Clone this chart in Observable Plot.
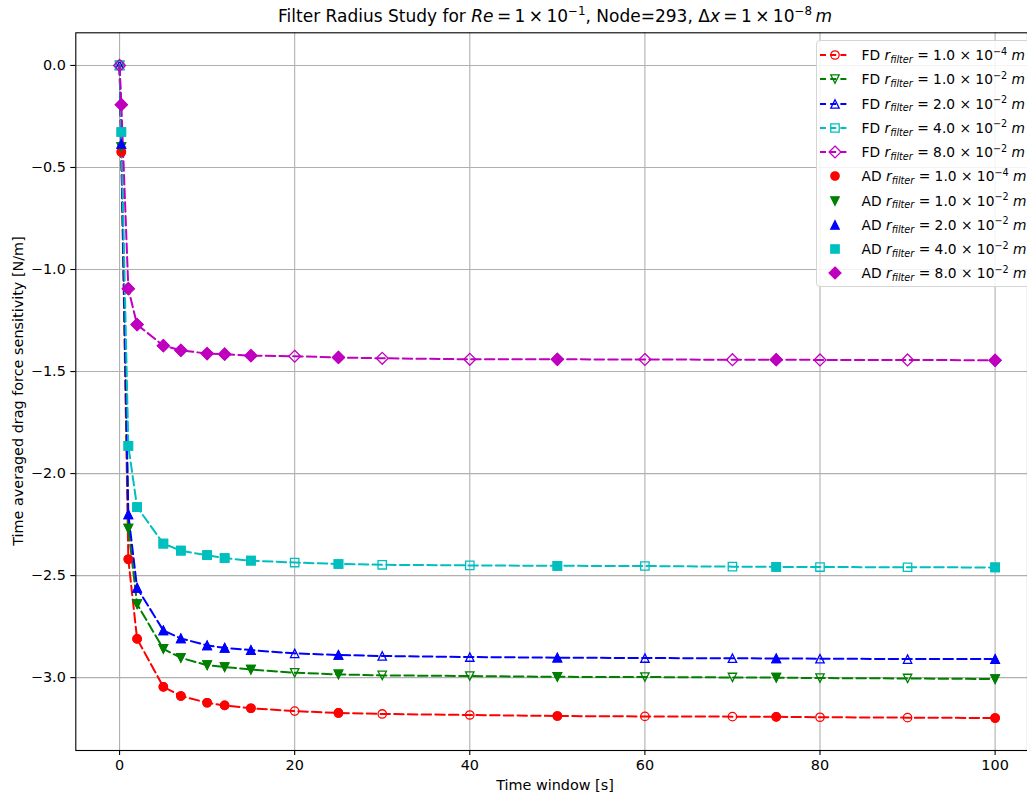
<!DOCTYPE html>
<html><head><meta charset="utf-8">
<script src="https://cdn.jsdelivr.net/npm/d3@7"></script>
<script src="https://cdn.jsdelivr.net/npm/@observablehq/plot@0.6"></script>
<style>
body{margin:0;background:#fff;font-family:"DejaVu Sans",sans-serif;color:#000;}
#wrap{position:relative;width:1027px;height:796px;overflow:hidden;}
#chart{position:absolute;left:0;top:0;}
.abs{position:absolute;white-space:nowrap;}
#title{top:6px;left:0;width:1110px;text-align:center;font-size:17px;line-height:20px;}
#xlabel{top:777px;left:0;width:1110px;text-align:center;font-size:14.4px;line-height:16px;}
#ylabel{left:18px;top:391px;font-size:14.4px;line-height:16px;transform:translate(-50%,-50%) rotate(-90deg);}
#legend{left:815.5px;top:39.5px;width:240px;height:245px;border:1px solid #d5d5d5;border-radius:4px;background:rgba(255,255,255,0.85);}
.ltext{position:absolute;left:861.5px;font-size:13.8px;line-height:20px;white-space:nowrap;}
sub,sup{font-size:70%;line-height:0;position:relative;vertical-align:baseline;}
sub{top:0.3em;} sup{top:-0.55em;}
i{font-style:italic;}
</style>
</head><body>
<div id="wrap">
<div id="chart"></div>
<div id="title" class="abs">Filter Radius Study for <i>Re</i>&thinsp;=&thinsp;1&thinsp;×&thinsp;10<sup>−1</sup>, Node=293, Δ<i>x</i>&thinsp;=&thinsp;1&thinsp;×&thinsp;10<sup>−8</sup>&thinsp;<i>m</i></div>
<div id="xlabel" class="abs">Time window [s]</div>
<div id="ylabel" class="abs">Time averaged drag force sensitivity [N/m]</div>
<div id="legend" class="abs"></div>
</div>
<script>
// ---- data ----
const times = [0, 0.2, 1, 2, 5, 7, 10, 12, 15, 20, 25, 30, 40, 50, 60, 70, 75, 80, 90, 100];
const adTimes = [0.2, 1, 2, 5, 7, 10, 12, 15, 25, 50, 75, 100];
const radiusMantissa = ["1.0", "1.0", "2.0", "4.0", "8.0"];
const radiusExponent = ["−4", "−2", "−2", "−2", "−2"];
const valuesR1e4 = [0, -0.424, -2.42, -2.81, -3.045, -3.09, -3.123, -3.136, -3.15, -3.164, -3.173, -3.178, -3.183, -3.188, -3.19, -3.191, -3.192, -3.194, -3.196, -3.198];
const valuesR1e2 = [0, -0.40, -2.27, -2.64, -2.859, -2.903, -2.939, -2.948, -2.96, -2.976, -2.984, -2.989, -2.992, -2.996, -2.997, -2.999, -3.0, -3.002, -3.004, -3.007];
const valuesR2e2 = [0, -0.385, -2.20, -2.56, -2.769, -2.808, -2.842, -2.854, -2.865, -2.881, -2.889, -2.894, -2.899, -2.902, -2.904, -2.905, -2.906, -2.907, -2.909, -2.909];
const valuesR4e2 = [0, -0.326, -1.864, -2.164, -2.343, -2.378, -2.40, -2.414, -2.427, -2.436, -2.443, -2.447, -2.450, -2.452, -2.453, -2.456, -2.457, -2.458, -2.459, -2.460];
const valuesR8e2 = [0, -0.192, -1.094, -1.270, -1.373, -1.396, -1.412, -1.415, -1.422, -1.425, -1.431, -1.435, -1.440, -1.440, -1.441, -1.442, -1.442, -1.443, -1.443, -1.445];
const xTicks = [0, 20, 40, 60, 80, 100];
const yTicks = [0, -0.5, -1.0, -1.5, -2.0, -2.5, -3.0];

// ---- styles ----
const colors = ["#ff0000", "#008000", "#0000ff", "#00bfbf", "#bf00bf"];
const shapes = ["circle", "triDown", "triUp", "square", "diamond"];
const seriesValues = [valuesR1e4, valuesR1e2, valuesR2e2, valuesR4e2, valuesR8e2];

function shapePath(ctx, kind, s) {
  if (kind === "circle") { ctx.moveTo(s, 0); ctx.arc(0, 0, s, 0, 2 * Math.PI); ctx.closePath(); return; }
  let pts;
  if (kind === "triUp") pts = [[0, -s], [s, s], [-s, s]];
  else if (kind === "triDown") pts = [[0, s], [s, -s], [-s, -s]];
  else if (kind === "square") pts = [[-s, -s], [s, -s], [s, s], [-s, s]];
  else { const d = s * Math.SQRT2; pts = [[0, -d], [d, 0], [0, d], [-d, 0]]; }
  ctx.moveTo(pts[0][0], pts[0][1]);
  for (let k = 1; k < pts.length; k++) ctx.lineTo(pts[k][0], pts[k][1]);
  ctx.closePath();
}
const symbolObj = kind => ({draw(ctx, size) { shapePath(ctx, kind, Math.sqrt(size / Math.PI)); }});

const R = 4.2, SW = 1.3, LW = 2, DASH = "9.5,4.2";

const marks = [
  Plot.gridX(xTicks, {stroke: "#b0b0b0", strokeOpacity: 1, strokeWidth: 1.1}),
  Plot.gridY(yTicks, {stroke: "#b0b0b0", strokeOpacity: 1, strokeWidth: 1.1})
];
seriesValues.forEach((vals, i) => {
  const fd = times.map((t, k) => ({t, v: vals[k]}));
  marks.push(Plot.line(fd, {x: "t", y: "v", stroke: colors[i], strokeWidth: LW, strokeDasharray: DASH}));
  marks.push(Plot.dot(fd, {x: "t", y: "v", r: R, symbol: symbolObj(shapes[i]), fill: "none", stroke: colors[i], strokeWidth: SW}));
});
seriesValues.forEach((vals, i) => {
  const ad = adTimes.map(t => ({t, v: vals[times.indexOf(t)]}));
  marks.push(Plot.dot(ad, {x: "t", y: "v", r: R, symbol: symbolObj(shapes[i]), fill: colors[i], stroke: colors[i], strokeWidth: SW}));
});
marks.push(Plot.axisX(xTicks, {tickSize: 5, tickPadding: 4, fontSize: 14.4, stroke: "#000", strokeWidth: 1.1, label: null}));
marks.push(Plot.axisY(yTicks, {tickSize: 5, tickPadding: 5, fontSize: 14.4, stroke: "#000", strokeWidth: 1.1, tickFormat: d3.format(".1f"), label: null}));
marks.push(Plot.frame({stroke: "#000", strokeWidth: 1.1}));

const chart = Plot.plot({
  width: 1027, height: 796,
  marginLeft: 75.3, marginRight: 0, marginTop: 32.3, marginBottom: 46,
  x: {domain: [-5, 103.7]},
  y: {domain: [-3.357, 0.16]},
  style: {fontFamily: "DejaVu Sans", fontSize: "14.4px", color: "#000", background: "white", overflow: "visible"},
  marks
});
document.getElementById("chart").appendChild(chart);

// ---- legend ----
const wrap = document.getElementById("wrap");
const ns = "http://www.w3.org/2000/svg";
const entries = [];
radiusMantissa.forEach((m, i) => entries.push({kind: "FD", i, hollow: true}));
radiusMantissa.forEach((m, i) => entries.push({kind: "AD", i, hollow: false}));
entries.forEach((e, j) => {
  const cy = 55 + 24.25 * j;
  const svg = document.createElementNS(ns, "svg");
  svg.setAttribute("width", 40); svg.setAttribute("height", 24);
  svg.style.position = "absolute"; svg.style.left = "815px"; svg.style.top = (cy - 12) + "px";
  const c = colors[e.i];
  if (e.hollow) {
    const ln = document.createElementNS(ns, "line");
    ln.setAttribute("x1", 5); ln.setAttribute("x2", 34.5); ln.setAttribute("y1", 12); ln.setAttribute("y2", 12);
    ln.setAttribute("stroke", c); ln.setAttribute("stroke-width", LW); ln.setAttribute("stroke-dasharray", "6,4.2");
    svg.appendChild(ln);
  }
  const p = d3.path();
  shapePath(p, shapes[e.i], R);
  const path = document.createElementNS(ns, "path");
  path.setAttribute("d", p.toString());
  path.setAttribute("transform", "translate(20,12)");
  path.setAttribute("fill", e.hollow ? "none" : c);
  path.setAttribute("stroke", c); path.setAttribute("stroke-width", SW);
  svg.appendChild(path);
  wrap.appendChild(svg);
  const tx = document.createElement("div");
  tx.className = "ltext";
  tx.style.top = (cy - 10) + "px";
  tx.innerHTML = `${e.kind} <i>r</i><sub><i>filter</i></sub> = ${radiusMantissa[e.i]} × 10<sup>${radiusExponent[e.i]}</sup> <i>m</i>`;
  wrap.appendChild(tx);
});
</script>
</body></html>
